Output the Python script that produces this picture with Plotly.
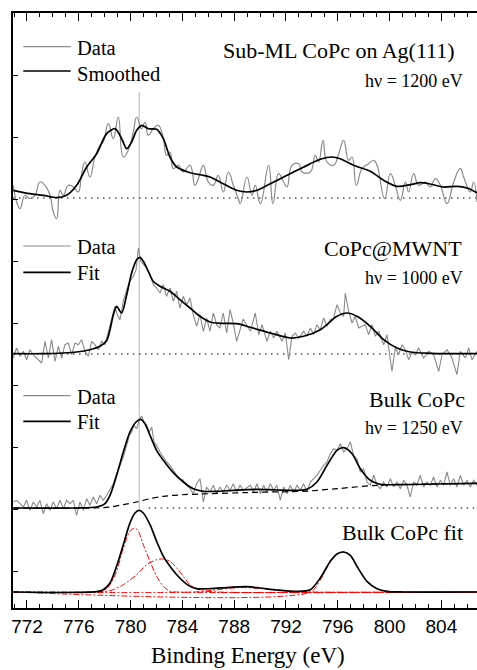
import plotly.graph_objects as go

# ---------------- data (binding energy in eV, intensity in arbitrary units) ----------------
# Panel offsets (stacking of the spectra)
offset_subml = 410
offset_mwnt = 254
offset_bulk = 100
offset_fit = 16

# Sub-ML CoPc on Ag(111), hv = 1200 eV
subml_data_e = [770.94, 771.20, 771.46, 771.85, 772.23, 772.62, 773.00, 773.39, 773.78, 774.03,
                774.29, 774.55, 774.81, 775.19, 775.58, 775.96, 776.22, 776.48, 776.86, 777.25,
                777.64, 777.89, 778.28, 778.67, 779.05, 779.44, 779.82, 780.21, 780.47, 780.85,
                781.11, 781.37, 781.75, 782.14, 782.53, 782.78, 783.04, 783.30, 783.69, 784.07,
                784.59, 784.97, 785.23, 785.62, 786.00, 786.39, 786.77, 787.16, 787.55, 787.93,
                788.32, 788.47, 788.99, 789.37, 789.63, 790.02, 790.66, 790.99, 791.43, 791.82,
                792.08, 792.46, 792.98, 793.24, 793.88, 794.26, 794.52, 794.86, 795.17, 795.68,
                796.07, 796.45, 796.84, 797.10, 797.43, 797.87, 798.38, 798.77, 799.03, 799.62,
                800.06, 800.44, 800.83, 801.22, 801.47, 801.86, 802.24, 802.76, 803.14, 803.53,
                803.92, 804.43, 804.95, 805.46, 805.72, 806.23, 806.49, 806.75]
subml_data_i = [12.7, -4, -10.7, 2.7, -0.7, 2.7, 16, 12.7, 2.7, -14,
                -20.7, 7.7, 2.7, 12.7, 11, 6, 24.3, 36, 21, 41,
                52.7, 56, 74.3, 59.3, 81, 41, 47.7, 66, 81, 69.3,
                76, 62.7, 69.3, 72.7, 59.3, 42.7, 46, 29.3, 32.7, 26,
                32.7, 12.7, 19.3, 32.7, 16, 12.7, 22.7, 6, 26, 12.7,
                -0.7, -5.7, 21, 2.7, 12.7, -5.7, 32.7, -5.7, 24.3, 16,
                11, 32.7, 34.3, 26, 26, 42.7, 36, 57.7, 36, 32.7,
                44.3, 57.7, 37.7, 41, 12.7, 29.3, 34.3, 37.7, 32.7, -0.7,
                24.3, 12.7, -2.3, 16, 6, 24.3, 12.7, 16, 11, 19.3,
                12.7, -5.7, 16, 29.3, 21, 6, 16, -4]
subml_smooth_e = [770.94, 772.23, 773.26, 774.29, 775.06, 775.84, 776.61, 777.38, 778.15, 778.80,
                  779.31, 779.70, 780.08, 780.47, 780.86, 781.37, 782.01, 782.53, 783.04, 783.56,
                  784.59, 785.61, 786.13, 787.16, 788.19, 788.99, 789.76, 790.79, 792.08, 793.37,
                  794.65, 795.55, 796.19, 797.23, 798.51, 799.54, 800.57, 801.60, 802.37, 803.14,
                  804.18, 805.20, 805.98, 806.75]
subml_smooth_i = [7.7, 4.3, 2.7, 0.3, 2.7, 12.7, 31, 44.3, 64.3, 69.3,
                  59.3, 49.3, 56, 67.7, 72.7, 69.3, 68.7, 59.3, 41, 31,
                  25.3, 22.7, 21, 14.3, 7.7, 6, 7.7, 14.3, 22.7, 31,
                  38.7, 41, 39.3, 32.7, 26.7, 17.7, 11.7, 13.3, 15.3, 14,
                  11, 11.7, 10, 5.3]

# CoPc@MWNT, hv = 1000 eV
mwnt_data_e = [770.94, 771.20, 771.46, 771.72, 771.97, 772.23, 772.49, 772.75, 773.13, 773.39,
               773.65, 773.90, 774.16, 774.42, 774.68, 774.93, 775.19, 775.45, 775.71, 775.96,
               776.22, 776.48, 776.74, 776.99, 777.25, 777.51, 777.77, 778.02, 778.28, 778.54,
               778.79, 778.97, 779.18, 779.44, 779.70, 779.95, 780.21, 780.42, 780.60, 780.78,
               780.98, 781.24, 781.50, 781.76, 782.01, 782.27, 782.53, 782.78, 783.04, 783.30,
               783.56, 783.81, 784.07, 784.33, 784.59, 784.84, 785.10, 785.36, 785.62, 785.87,
               786.13, 786.39, 786.65, 786.90, 787.16, 787.42, 787.68, 787.93, 788.19, 788.70,
               789.25, 789.63, 789.89, 790.15, 790.53, 790.79, 791.05, 791.30, 791.69, 791.95,
               792.21, 792.46, 792.72, 792.98, 793.36, 793.62, 793.88, 794.14, 794.39, 794.65,
               794.91, 795.17, 795.42, 795.68, 795.94, 796.20, 796.45, 796.58, 796.84, 797.10,
               797.35, 797.61, 797.87, 798.13, 798.38, 798.64, 798.90, 799.16, 799.54, 799.80,
               800.18, 800.44, 800.70, 800.96, 801.22, 801.47, 801.73, 801.99, 802.24, 802.63,
               803.02, 803.40, 803.79, 804.05, 804.43, 804.82, 805.20, 805.46, 805.85, 806.11,
               806.36, 806.75]
mwnt_data_i = [-4, 6, -2.3, 2.7, -5.7, 4.3, -0.7, -4, -9, 12.7,
               -4, 14.3, -7.3, 7.7, -4, 9.3, 11, -0.7, 11, 9.3,
               14.3, 2.7, -2.3, 12.7, 9.3, 4.3, 12.7, 9.3, 22.7, 34.3,
               47.7, 39.3, 34.3, 52.7, 64.3, 72.7, 77.7, 84.3, 106, 92.7,
               89.3, 86, 79.3, 69.3, 66, 61, 69.3, 57.7, 66, 52.7,
               62.7, 46, 57.7, 49.3, 56, 39.3, 27.7, 39.3, 22.7, 36,
               22.7, 41, 29.3, 26, 41, 21, 44.3, 31, 12.7, 35,
               22.7, 41, 19.3, 29.3, 12.7, 22.7, 16, 22.7, 12.7, 21,
               -5.7, 17.7, 21, 16, 22.7, 17.7, 26, 19.3, 29.3, 24.3,
               36, 27.7, 34.3, 36, 49.3, 41, 37.7, 61, 42.7, 31,
               37.7, 26, 27.7, 29.3, 19.3, 29.3, 17.7, 22.7, 9.3, 19.3,
               -17.3, 6, -0.7, 9.3, 4.3, -5.7, 1, -0.7, 6, -4,
               2.7, -0.7, -17.3, -0.7, 4.3, -4, -20.7, 2.7, -4, 6,
               -5.7, 2.7]
mwnt_fit_e = [770.94, 773.26, 774.80, 775.83, 776.86, 777.64, 778.15, 778.41, 778.67, 778.92,
              779.31, 779.70, 780.08, 780.47, 780.73, 780.98, 781.37, 781.75, 782.27, 783.04,
              783.81, 784.59, 785.36, 786.13, 786.90, 788.19, 789.25, 790.79, 792.33, 793.36,
              794.65, 795.94, 796.71, 797.48, 798.51, 799.54, 800.57, 801.60, 803.14, 806.75]
mwnt_fit_i = [0.3, 0.3, 1, 2, 4.3, 7.7, 13.3, 24.3, 39.3, 47.7,
              41, 59.3, 81, 94.3, 96.7, 92.7, 82.7, 72.7, 67.7, 62.7,
              54.3, 46, 37.7, 32, 30.7, 30.3, 26.7, 21, 16, 17.7,
              24.3, 37.7, 41, 37.7, 27.7, 14.3, 6, 2, 0.7, 0.3]

# Bulk CoPc, hv = 1250 eV
bulk_data_e = [770.94, 771.20, 771.46, 771.72, 771.97, 772.23, 772.49, 772.75, 773.00, 773.26,
               773.52, 773.78, 774.03, 774.29, 774.55, 774.81, 775.06, 775.32, 775.58, 775.83,
               776.09, 776.35, 776.61, 776.86, 777.12, 777.38, 777.64, 777.89, 778.15, 778.41,
               778.67, 778.92, 779.18, 779.44, 779.70, 779.90, 780.08, 780.26, 780.47, 780.67,
               780.85, 781.03, 781.24, 781.45, 781.63, 781.81, 782.01, 782.27, 782.53, 782.78,
               783.04, 783.30, 783.56, 783.81, 784.07, 784.33, 784.59, 784.84, 785.10, 785.36,
               785.62, 785.87, 786.13, 786.39, 786.65, 786.90, 787.16, 787.42, 787.68, 787.93,
               788.19, 788.45, 788.71, 789.25, 789.50, 789.76, 790.02, 790.28, 790.53, 790.79,
               791.05, 791.30, 791.56, 791.82, 792.08, 792.33, 792.59, 792.85, 793.11, 793.36,
               793.62, 793.88, 794.14, 794.39, 794.65, 794.91, 795.17, 795.42, 795.68, 795.94,
               796.20, 796.45, 796.71, 796.97, 797.22, 797.48, 797.74, 798.00, 798.25, 798.51,
               798.77, 799.03, 799.28, 799.54, 799.80, 800.06, 800.31, 800.57, 800.83, 801.09,
               801.34, 801.60, 801.86, 802.11, 802.37, 802.63, 802.89, 803.14, 803.40, 803.66,
               803.92, 804.17, 804.43, 804.69, 804.95, 805.20, 805.46, 805.72, 805.98, 806.23,
               806.49, 806.75]
bulk_data_i = [6, 7.7, 4.3, 1, 7.7, -2.3, 6, 1, 7.7, -5.7,
               4.3, -2.3, 6, -0.7, 7.7, -0.7, 7.7, 4.3, 7.7, -7.3,
               6, -2.3, 9.3, 2.7, 11, 4.3, 12.7, 7.7, 12.7, 19.3,
               24.3, 34.3, 42.7, 51, 62.7, 72.7, 76, 82.7, 79.3, 87.7,
               92, 86, 82.7, 76, 81, 66, 62.7, 56, 51, 46,
               42.7, 37.7, 32.7, 29.3, 27.7, 22.7, 19.3, 14.3, 24.3, 29.3,
               6, 21, 16, 22.7, 14.3, 21, 16, 22.7, 17.7, 24.3,
               16, 22.7, 17.7, 22.7, 16, 24.3, 14.3, 22.7, 16, 24.3,
               17.7, 22.7, 7.7, 21, 14.3, 22.7, 16, 22.7, 17.7, 24.3,
               16, 26, 29.3, 32.7, 37.7, 42.7, 46, 54.3, 59.3, 57.7,
               64.3, 56, 59.3, 66, 52.7, 49.3, 36, 39.3, 26, 22.7,
               32.7, 22.7, 19.3, 26, 21, 29.3, 21, 26, 19.3, 27.7,
               22.7, 11, 26, 22.7, 32.7, 21, 26, 22.7, 31, 21,
               27.7, 22.7, 36, 22.7, 29.3, 21, 32.7, 22.7, 27.7, 21,
               27.7, 22.7]
bulk_fit_e = [770.94, 775.83, 777.38, 778.02, 778.41, 778.92, 779.44, 779.95, 780.42, 780.78,
              781.11, 781.50, 782.01, 782.53, 783.30, 784.07, 784.84, 785.62, 786.65, 787.93,
              789.76, 791.30, 792.85, 793.62, 794.39, 795.17, 795.94, 796.45, 797.10, 797.74,
              798.51, 799.28, 800.57, 803.66, 806.75]
bulk_fit_i = [0, 0, 1, 4.3, 12.7, 32.7, 56, 76, 86, 88.7,
              84.3, 72.7, 57.7, 47.7, 35.3, 26, 19.3, 16.7, 16.7, 17.7,
              18.7, 18, 17.7, 18.7, 26, 42.7, 57.7, 60.3, 54.3, 39.3,
              27.7, 23.7, 23.3, 24, 24.7]
bulk_bg_e = [770.94, 777.12, 778.41, 779.44, 780.47, 781.50, 782.53, 784.07, 786.13, 788.71,
             790.79, 793.36, 795.94, 799.03, 806.75]
bulk_bg_i = [0, 0, 1, 3.3, 6, 9.3, 11.7, 13.3, 14.3, 15.3,
             16, 16.7, 19.3, 22.7, 24.7]

# Bulk CoPc fit: total envelope and components
total_e = [770.94, 777.38, 777.89, 778.41, 778.92, 779.44, 779.95, 780.34, 780.67, 780.98,
           781.50, 782.01, 782.53, 783.04, 783.56, 784.07, 784.59, 785.10, 786.13, 787.68,
           788.96, 790.00, 791.30, 792.85, 793.88, 794.65, 795.42, 795.94, 796.45, 796.97,
           797.48, 798.25, 799.03, 799.80, 801.09, 806.75]
total_i = [0, 0.3, 2.3, 9, 25.7, 47.3, 69, 79, 81.7, 79,
           67.3, 50.7, 35.7, 25.7, 17.3, 10.7, 5.7, 3.3, 3.3, 4.7,
           5.3, 4, 2, 0.7, 2.3, 14, 30.7, 38, 40, 36.7,
           25.7, 10.7, 3.3, 0.7, 0, 0]
comp1_e = [770.94, 777.38, 777.89, 778.41, 778.92, 779.44, 779.95, 780.34, 780.60, 780.98,
           781.50, 782.01, 782.53, 783.04, 783.56, 806.75]
comp1_i = [0, 0, 0.7, 7.3, 20.7, 44, 60.7, 64, 60.7, 47.3,
           30.7, 15.7, 5.7, 0.7, 0, 0]
comp2_e = [770.94, 777.38, 778.41, 779.44, 780.47, 781.24, 782.01, 782.53, 783.04, 783.56,
           784.07, 784.59, 785.10, 785.62, 786.65, 806.75]
comp2_i = [0, 0, 1.3, 7.3, 17.3, 27.3, 32.3, 33, 30.7, 24,
           15.7, 7.3, 3.3, 1.3, 0, 0]
comp3_e = [770.94, 785.00, 786.50, 788.50, 790.50, 792.50, 794.00, 806.75]
comp3_i = [0, 0, 2, 4.5, 3, 0.7, 0, 0]
comp4_e = [770.94, 793.88, 794.65, 795.42, 795.94, 796.45, 796.97, 797.48, 798.25, 799.03,
           799.80, 806.75]
comp4_i = [0, 0, 12, 30, 38, 40, 36.7, 25.7, 10.7, 3.3, 0.7, 0]

baseline_e = [770.92, 806.75]
bulk_baseline_e = [781.4, 806.75]
ref_line_energy = 780.67
ref_line_span = [97, 516]

x_tick_vals = [772, 776, 780, 784, 788, 792, 796, 800, 804]
x_tick_text = ["772", "776", "780", "784", "788", "792", "796", "800", "804"]

# ---------------- figure ----------------
W, H = 477, 670
ML, MR, MT, MB = 13, 0, 13, 62
X_RANGE = [770.92, 806.75]
Y_RANGE = [0, 595]

GRAY = "#8a8a8a"
SERIF = "Liberation Serif, Times New Roman, serif"
SANS = "Liberation Sans, Arial, sans-serif"


def shift(vals, off):
    return [v + off for v in vals]


fig = go.Figure()


def add(x, y, color, width=1.6, dash="solid", shape="spline", smoothing=0.8):
    line = dict(color=color, width=width, dash=dash, shape=shape)
    if shape == "spline":
        line["smoothing"] = smoothing
    fig.add_trace(go.Scatter(x=x, y=y, mode="lines", line=line, showlegend=False,
                             hoverinfo="skip"))


# reference vertical line
add([ref_line_energy, ref_line_energy], ref_line_span, "#c4c4c4", width=1.2, shape="linear")

# dotted baselines
add(baseline_e, [offset_subml] * 2, "black", 1.1, "1.5px,4.5px", "linear")
add(baseline_e, [offset_mwnt] * 2, "black", 1.1, "1.5px,4.5px", "linear")
add(bulk_baseline_e, [offset_bulk] * 2, "black", 1.1, "1.5px,4.5px", "linear")

# Sub-ML panel
add(subml_data_e, shift(subml_data_i, offset_subml), GRAY, 1.2, shape="spline", smoothing=1.3)
add(subml_smooth_e, shift(subml_smooth_i, offset_subml), "black", 1.7)

# MWNT panel
add(mwnt_data_e, shift(mwnt_data_i, offset_mwnt), GRAY, 1.1, shape="linear")
add(mwnt_fit_e, shift(mwnt_fit_i, offset_mwnt), "black", 1.7)

# Bulk panel
add(bulk_data_e, shift(bulk_data_i, offset_bulk), GRAY, 1.1, shape="linear")
add(bulk_bg_e, shift(bulk_bg_i, offset_bulk), "black", 1.2, "6px,4px", "spline")
add(bulk_fit_e, shift(bulk_fit_i, offset_bulk), "black", 1.7)

# Fit components panel
DASHDOT = "6px,2px,2px,2px"
add(comp3_e, shift(comp3_i, offset_fit), "red", 1.0, DASHDOT)
add(comp4_e, shift(comp4_i, offset_fit), "red", 1.0, DASHDOT)
add(comp2_e, shift(comp2_i, offset_fit), "red", 1.0, DASHDOT)
add(comp1_e, shift(comp1_i, offset_fit), "red", 1.0, DASHDOT)
add(total_e, shift(total_i, offset_fit), "black", 1.7)

# ---------------- text & legend keys (positions given in page pixels) ----------------
PW = W - ML - MR
PH = H - MT - MB


def px(xp):
    return (xp - ML) / PW


def py(yp):
    return (H - MB - yp) / PH


annotations = []


def label(text, right_px, base_px, size, anchor="right", left_px=None):
    # approximate: place middle of text box ~0.30*size above baseline
    yc = base_px - 0.30 * size
    if anchor == "right":
        annotations.append(dict(text=text, x=px(right_px), y=py(yc), xref="paper", yref="paper",
                                xanchor="right", yanchor="middle", showarrow=False,
                                font=dict(family=SERIF, size=size, color="black")))
    else:
        annotations.append(dict(text=text, x=px(left_px), y=py(yc), xref="paper", yref="paper",
                                xanchor="left", yanchor="middle", showarrow=False,
                                font=dict(family=SERIF, size=size, color="black")))


label("Sub-ML CoPc on Ag(111)", 457, 56.7, 22)
label("hν = 1200 eV", 465, 86, 18)
label("CoPc@MWNT", 464, 255.5, 22)
label("hν = 1000 eV", 465, 283.3, 18)
label("Bulk CoPc", 467, 405.7, 22)
label("hν = 1250 eV", 465, 433.3, 18)
label("Bulk CoPc fit", 465, 539, 22)

legend_sets = [
    (("Data", 46.7, 54), ("Smoothed", 71, 80)),
    (("Data", 246, 253.3), ("Fit", 272.3, 279.3)),
    (("Data", 395.7, 402.7), ("Fit", 421.3, 428.3)),
]
shapes = []
for entry in legend_sets:
    for i, (txt, ly, tb) in enumerate(entry):
        shapes.append(dict(type="line", xref="paper", yref="paper",
                           x0=px(23.3), x1=px(70.7), y0=py(ly), y1=py(ly),
                           line=dict(color=GRAY if i == 0 else "black",
                                     width=1.2 if i == 0 else 1.7)))
        label(txt, None, tb, 20.5, anchor="left", left_px=74.5)

# axis title
label("Binding Energy (eV)", None, 662.5, 23, anchor="left", left_px=149)

fig.update_layout(
    width=W, height=H,
    margin=dict(l=ML, r=MR, t=MT, b=MB, pad=0),
    paper_bgcolor="white", plot_bgcolor="white",
    showlegend=False,
    annotations=annotations,
    shapes=shapes,
    xaxis=dict(range=X_RANGE, tickvals=x_tick_vals, ticktext=x_tick_text,
               ticks="inside", ticklen=8, tickwidth=1.3, tickcolor="black",
               showline=True, linecolor="black", linewidth=1.5, mirror="ticks",
               showgrid=False, zeroline=False,
               tickfont=dict(family=SANS, size=19, color="black"),
               minor=dict(dtick=1, tick0=772, ticks="inside", ticklen=4, tickwidth=1.1,
                          tickcolor="black", showgrid=False)),
    yaxis=dict(range=Y_RANGE, tick0=37, dtick=62, ticks="inside", ticklen=5, tickwidth=1.3,
               tickcolor="black", showticklabels=False, showline=True, linecolor="black",
               linewidth=1.5, mirror=False, showgrid=False, zeroline=False),
)

fig.write_html("out.html")
